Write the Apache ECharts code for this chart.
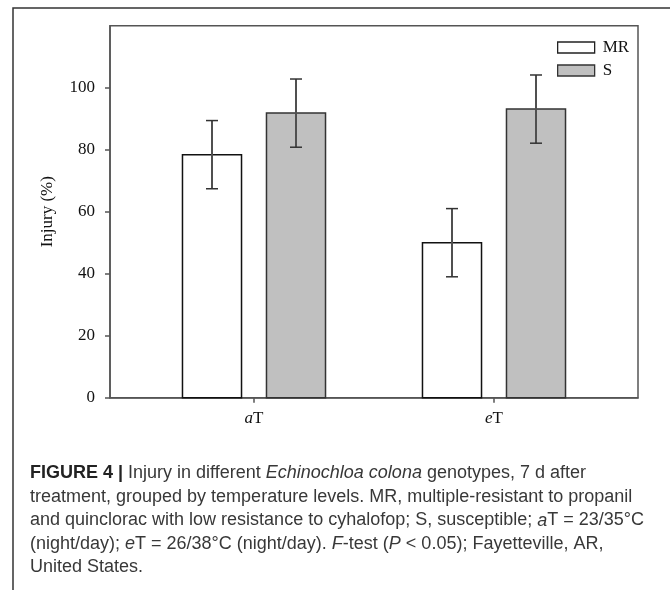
<!DOCTYPE html>
<html>
<head>
<meta charset="utf-8">
<script src="https://cdn.jsdelivr.net/npm/echarts@6/dist/echarts.min.js"></script>
<style>
  html, body { margin: 0; padding: 0; background: #fff; }
  #chart { width: 670px; height: 590px; }
</style>
</head>
<body>
<div id="chart"></div>
<script>
// Temperature levels (category positions 0 and 1 on the x axis)
const categories = ['aT', 'eT'];
// Mean injury (%) per genotype
const mrInjury = [78.4, 50.0];
const sInjury = [91.8, 93.1];
// Half-length of the error bars (%)
const mrError = [11.0, 11.0];
const sError = [11.0, 11.0];
// Y-axis tick values
const yTicks = [0, 20, 40, 60, 80, 100];
const categoryIndex = [0, 1];

const SERIF = '"Liberation Serif", "Times New Roman", serif';
const SANS = '"Liberation Sans", Arial, sans-serif';

// Bar geometry in x-axis data units
const BAR_OFFSET = 0.175;
const BAR_HALF = 0.123;

function makeRender(offset, fill, stroke) {
  return function (params, api) {
    const x = api.value(0) + offset;
    const v = api.value(1);
    const e = api.value(2);
    const tl = api.coord([x - BAR_HALF, v]);
    const br = api.coord([x + BAR_HALF, 0]);
    const top = api.coord([x, v + e]);
    const bot = api.coord([x, v - e]);
    const cap = 6;
    return {
      type: 'group',
      children: [
        {
          type: 'rect',
          shape: { x: tl[0], y: tl[1], width: br[0] - tl[0], height: br[1] - tl[1] },
          style: { fill: fill, stroke: stroke, lineWidth: 1.5 }
        },
        {
          type: 'line',
          shape: { x1: top[0], y1: top[1], x2: bot[0], y2: bot[1] },
          style: { stroke: '#505050', lineWidth: 2 },
          z2: 10
        },
        {
          type: 'line',
          shape: { x1: top[0] - cap, y1: top[1], x2: top[0] + cap, y2: top[1] },
          style: { stroke: '#333', lineWidth: 1.5 },
          z2: 10
        },
        {
          type: 'line',
          shape: { x1: bot[0] - cap, y1: bot[1], x2: bot[0] + cap, y2: bot[1] },
          style: { stroke: '#333', lineWidth: 1.5 },
          z2: 10
        }
      ]
    };
  };
}

const chart = echarts.init(document.getElementById('chart'), null, { renderer: 'canvas' });

const CAPTION_SIZE = 18;
const captionLines = [
  '{b|FIGURE 4 |} Injury in different {i|Echinochloa colona} genotypes, 7 d after',
  'treatment, grouped by temperature levels. MR, multiple-resistant to propanil',
  'and quinclorac with low resistance to cyhalofop; S, susceptible; {i|a}T = 23/35°C',
  '(night/day); {i|e}T = 26/38°C (night/day). {i|F}-test ({i|P} < 0.05); Fayetteville, AR,',
  'United States.'
];
const captionRich = {
  b: { fontFamily: SANS, fontSize: CAPTION_SIZE, fontWeight: 'bold', fill: '#222' },
  i: { fontFamily: SANS, fontSize: CAPTION_SIZE, fontStyle: 'italic', fill: '#383838' }
};
const captionBaselines = [480, 504, 527.5, 551, 574.5];

const option = {
  animation: false,
  backgroundColor: '#fff',
  grid: {
    left: 110, top: 25.7, right: 32, bottom: 192.3,
    show: true, borderColor: '#555', borderWidth: 1.5, backgroundColor: 'transparent'
  },
  legend: {
    orient: 'vertical',
    left: 557, top: 39,
    padding: 0,
    itemWidth: 37, itemHeight: 11, itemGap: 6,
    icon: 'rect',
    textStyle: { fontFamily: SERIF, fontSize: 17, color: '#111', padding: [0, 0, 0, 3] },
    data: [
      { name: 'MR', itemStyle: { color: '#fff', borderColor: '#222', borderWidth: 1.3 } },
      { name: 'S', itemStyle: { color: '#c0c0c0', borderColor: '#333', borderWidth: 1.3 } }
    ]
  },
  xAxis: {
    type: 'value',
    min: -0.6, max: 1.6,
    splitLine: { show: false },
    axisLine: { show: true, onZero: false, lineStyle: { color: '#555', width: 1.5 } },
    axisTick: { show: true, customValues: categoryIndex, length: 5, lineStyle: { color: '#555', width: 1.5 } },
    axisLabel: {
      customValues: categoryIndex,
      margin: 12,
      fontFamily: SERIF, fontSize: 17, color: '#111',
      formatter: function (v) {
        const name = categories[Math.round(v)] || '';
        return '{i|' + name.charAt(0) + '}' + name.slice(1);
      },
      rich: { i: { fontFamily: SERIF, fontSize: 17, fontStyle: 'italic', color: '#111' } }
    }
  },
  yAxis: {
    type: 'value',
    min: 0, max: 120, interval: 20,
    name: 'Injury (%)',
    nameLocation: 'middle',
    nameRotate: 90,
    nameGap: 54,
    nameTextStyle: { fontFamily: SERIF, fontSize: 17, color: '#111' },
    splitLine: { show: false },
    axisLine: { show: true, onZero: false, lineStyle: { color: '#555', width: 1.5 } },
    axisTick: { show: true, customValues: yTicks, length: 5, lineStyle: { color: '#555', width: 1.5 } },
    axisLabel: {
      customValues: yTicks,
      margin: 15,
      fontFamily: SERIF, fontSize: 17, color: '#111'
    }
  },
  series: [
    {
      name: 'MR',
      type: 'custom',
      itemStyle: { color: '#fff', borderColor: '#222' },
      renderItem: makeRender(-BAR_OFFSET, '#fff', '#111'),
      encode: { x: 0, y: 1 },
      data: categoryIndex.map(function (i) { return [i, mrInjury[i], mrError[i]]; })
    },
    {
      name: 'S',
      type: 'custom',
      itemStyle: { color: '#c0c0c0', borderColor: '#333' },
      renderItem: makeRender(BAR_OFFSET, '#c0c0c0', '#333'),
      encode: { x: 0, y: 1 },
      data: categoryIndex.map(function (i) { return [i, sInjury[i], sError[i]]; })
    }
  ],
  graphic: [
    {
      type: 'rect',
      shape: { x: 13, y: 8, width: 700, height: 620 },
      style: { fill: 'none', stroke: '#333', lineWidth: 1.5 },
      silent: true
    }
  ].concat(captionLines.map(function (line, k) {
    return {
      type: 'text',
      left: 30,
      top: captionBaselines[k] - 16,
      style: {
        text: line,
        fontFamily: SANS,
        fontSize: CAPTION_SIZE,
        fill: '#383838',
        rich: captionRich
      },
      silent: true
    };
  }))
};

chart.setOption(option);
</script>
</body>
</html>
